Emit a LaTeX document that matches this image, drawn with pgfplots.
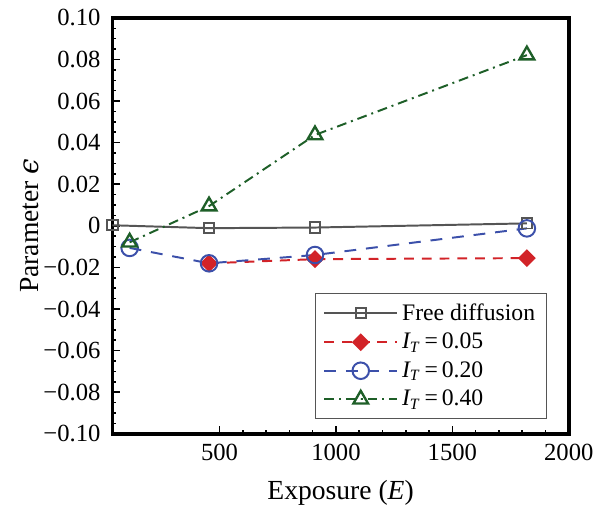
\documentclass[border=0pt]{standalone}
\usepackage{fontspec}
\setmainfont{Liberation Serif}
\newfontfamily\dvs{DejaVu Serif}
\usepackage{pgfplots}
\pgfplotsset{compat=1.18}
\definecolor{cgray}{RGB}{85,85,85}
\definecolor{cred}{RGB}{210,35,40}
\definecolor{cblue}{RGB}{60,80,170}
\definecolor{cgreen}{RGB}{30,95,40}
\newcommand{\IT}{\textit{I}\kern-0.5pt\textsubscript{\textit{T}}\,=\,}
\begin{document}
\begin{tikzpicture}
\begin{axis}[
  scale only axis,
  width=231.5pt, height=211pt,
  xmin=40, xmax=2000, ymin=-0.1, ymax=0.1,
  axis line style={line width=1.8pt},
  tick pos=left, tick align=inside,
  major tick length=4pt, minor tick length=2pt,
  every tick/.style={black, line width=0.8pt},
  xtick={500,1000,1500,2000},
  minor x tick num=4,
  ytick={-0.1,-0.08,-0.06,-0.04,-0.02,0,0.02,0.04,0.06,0.08,0.1},
  yticklabels={−0.10,−0.08,−0.06,−0.04,−0.02,0,0.02,0.04,0.06,0.08,0.10},
  minor y tick num=3,
  /pgf/number format/1000 sep={},
  /pgf/number format/assume math mode=true,
  tick label style={font=\fontsize{12.5}{14}\selectfont},
  yticklabel style={xshift=-2.5pt},
  xticklabel style={yshift=-1.5pt},
  label style={font=\fontsize{14}{16}\selectfont},
  xlabel={Exposure (\textit{E})},
  ylabel={Parameter {\dvs\itshape ϵ}},
  xlabel style={yshift=-3pt},
  ylabel shift=-4.5pt,
  legend style={at={(1,0)}, anchor=south east, xshift=-10.8pt, yshift=7.5pt,
    font=\fontsize{12}{14}\selectfont, draw=cgray, line width=0.6pt,
    row sep=1pt, inner xsep=4pt, inner ysep=3pt, cells={anchor=west}},
  legend cell align=left,
  legend image code/.code={\draw[mark repeat=2, mark phase=2] plot coordinates {(0pt,0pt) (18.5pt,0pt) (37pt,0pt)};},
  clip=false,
]
\addplot[cgray, line width=1pt, mark=square, mark size=2.6pt, mark options={solid, line width=1pt}]
  coordinates {(40,0.0003) (455,-0.0011) (910,-0.0008) (1820,0.0012)};
\addlegendentry{Free diffusion}
\addplot[cred, line width=1pt, dash pattern=on 5pt off 4pt, mark=square*, mark size=2.7pt, mark options={solid, rotate=45}]
  coordinates {(455,-0.018) (910,-0.016) (1820,-0.0155)};
\addlegendentry{\IT 0.05}
\addplot[cblue, line width=1pt, dash pattern=on 6pt off 5pt, mark=o, mark size=4.2pt, mark options={solid, line width=1pt}]
  coordinates {(114,-0.0106) (455,-0.018) (910,-0.014) (1820,-0.0012)};
\addlegendentry{\IT 0.20}
\addplot[cgreen, line width=1pt, dash pattern=on 5pt off 2.5pt on 1pt off 2.5pt, mark=triangle, mark size=4.3pt, mark options={solid, line width=1.2pt}]
  coordinates {(114,-0.0079) (455,0.0095) (910,0.0437) (1820,0.0821)};
\addlegendentry{\IT 0.40}
\end{axis}
\path ([xshift=-7pt]current bounding box.west);
\path ([yshift=1.5pt]current bounding box.north);
\end{tikzpicture}
\end{document}
